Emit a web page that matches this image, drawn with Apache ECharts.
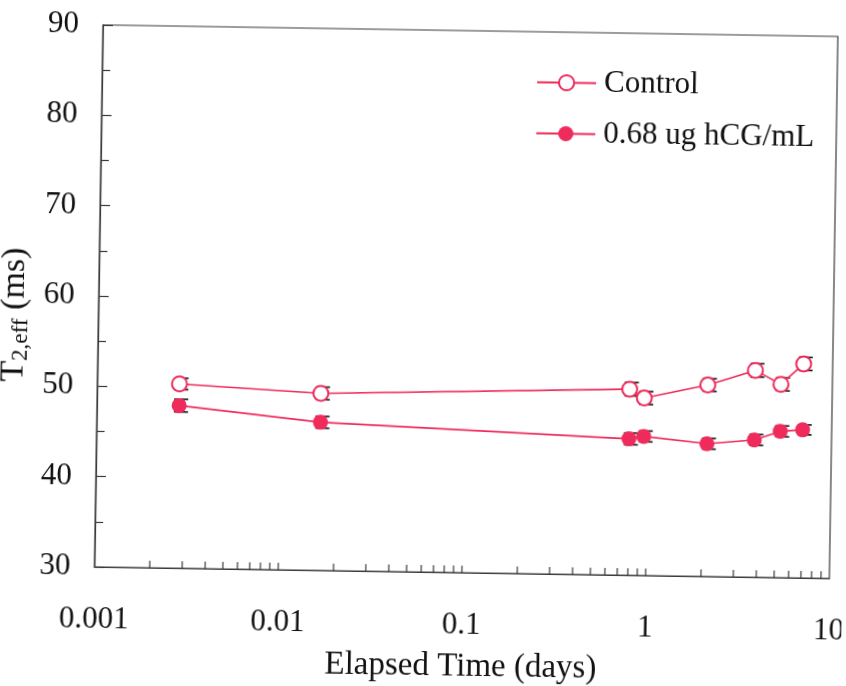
<!DOCTYPE html>
<html><head><meta charset="utf-8">
<script src="https://cdn.jsdelivr.net/npm/echarts@6/dist/echarts.min.js"></script>
<style>
html,body{margin:0;padding:0;background:#fff;overflow:hidden;width:846px;height:686px}
#c{width:846px;height:686px;transform:rotate(0.9deg);transform-origin:423px 343px;}
</style>
</head><body><div id="c"></div>
<script>
// ---- data ----
const days = [0.0028, 0.0165, 0.79, 0.95, 2.1, 3.8, 5.25, 6.95];
const control = [50.4, 49.6, 50.6, 49.65, 51.2, 52.9, 51.4, 53.7];
const controlErr = [0.63, 0.7, 0.74, 0.72, 0.7, 0.74, 0.72, 0.72];
const treated = [48.0, 46.4, 45.1, 45.4, 44.7, 45.2, 46.2, 46.4];
const treatedErr = [0.7, 0.65, 0.65, 0.6, 0.6, 0.6, 0.6, 0.55];
const seriesNames = ['Control', '0.68 ug hCG/mL'];
const xTickValues = [0.001, 0.01, 0.1, 1, 10];
const xTickLabels = ['0.001', '0.01', '0.1', '1', '10'];
const yMin = 30, yMax = 90, yStep = 10;

// ---- styles ----
const RED = '#EE2B5B';
const FONT = 'Liberation Serif';
const AXIS = '#3a3a3a';

// minor tick positions on the log x axis (2..10 within each decade)
const minorTicks = [];
for (let k = 0; k < xTickValues.length - 1; k++) {
  for (let m = 2; m <= 10; m++) {
    const v = xTickValues[k] * m;
    if (v < xTickValues[xTickValues.length - 1] * 0.999) minorTicks.push([v, yMin]);
  }
}

function errRender(params, api) {
  const x = api.value(0), y = api.value(1), e = api.value(2);
  const hi = api.coord([x, y + e]);
  const lo = api.coord([x, y - e]);
  const cx = hi[0] + 2, w = 7;
  const st = {stroke: '#111', lineWidth: 1.6};
  return {type: 'group', children: [
    {type: 'line', shape: {x1: cx, y1: hi[1], x2: cx, y2: lo[1]}, style: st},
    {type: 'line', shape: {x1: cx - w, y1: hi[1], x2: cx + w, y2: hi[1]}, style: st},
    {type: 'line', shape: {x1: cx - w, y1: lo[1], x2: cx + w, y2: lo[1]}, style: st}
  ]};
}
function tickRender(params, api) {
  const p = api.coord([api.value(0), api.value(1)]);
  return {type: 'line', shape: {x1: p[0], y1: p[1], x2: p[0], y2: p[1] - 7},
          style: {stroke: AXIS, lineWidth: 1.2}};
}

const chart = echarts.init(document.getElementById('c'), null, {renderer: 'canvas'});
chart.setOption({
  animation: false,
  backgroundColor: '#fff',
  textStyle: {fontFamily: FONT},
  grid: {left: 98, top: 30, width: 735, height: 542, show: true, containLabel: false,
         outerBoundsMode: 'none',
         borderColor: AXIS, borderWidth: 1.2, backgroundColor: 'transparent'},
  legend: {
    orient: 'vertical', left: 527, top: 60, itemWidth: 59, itemHeight: 19, itemGap: 20,
    data: seriesNames,
    textStyle: {fontFamily: FONT, fontSize: 31, color: '#111', padding: [0, 0, 0, 3]}
  },
  xAxis: {
    type: 'log', logBase: 10, min: xTickValues[0], max: xTickValues[xTickValues.length - 1],
    name: 'Elapsed Time (days)', nameLocation: 'middle', nameGap: 78,
    nameTextStyle: {fontFamily: FONT, fontSize: 33, color: '#111'},
    axisLine: {lineStyle: {color: AXIS, width: 1.2}},
    axisTick: {show: false},
    splitLine: {show: false},
    axisLabel: {fontFamily: FONT, fontSize: 31, color: '#111', margin: 37,
      formatter: v => {
        const i = xTickValues.findIndex(t => Math.abs(Math.log10(t) - Math.log10(v)) < 1e-6);
        return i >= 0 ? xTickLabels[i] : '';
      }}
  },
  yAxis: {
    type: 'value', min: yMin, max: yMax, interval: yStep,
    name: '{t|T}{s|2,eff}{t| (ms)}', nameLocation: 'middle', nameGap: 58, nameRotate: 90,
    nameTextStyle: {fontFamily: FONT, color: '#111', padding: [0, 40, 0, 0],
      rich: {
        t: {fontFamily: FONT, fontSize: 34, lineHeight: 36, color: '#111'},
        s: {fontFamily: FONT, fontSize: 23, lineHeight: 22, color: '#111', verticalAlign: 'bottom'}
      }},
    axisLine: {show: true, lineStyle: {color: AXIS, width: 1.2}},
    axisTick: {show: true, inside: true, length: 10, lineStyle: {color: AXIS, width: 1.2}},
    minorTick: {show: true, splitNumber: 2, length: 8, lineStyle: {color: AXIS, width: 1.2}},
    splitLine: {show: false},
    axisLabel: {fontFamily: FONT, fontSize: 31, color: '#111', margin: 24}
  },
  series: [
    {type: 'custom', name: 'xticks', data: minorTicks, renderItem: tickRender, silent: true, z: 1,
     encode: {x: 0, y: 1}},
    {type: 'custom', name: 'errC', data: days.map((d, i) => [d, control[i], controlErr[i]]),
     renderItem: errRender, encode: {x: 0, y: 1}, z: 2, silent: true},
    {type: 'custom', name: 'errT', data: days.map((d, i) => [d, treated[i], treatedErr[i]]),
     renderItem: errRender, encode: {x: 0, y: 1}, z: 2, silent: true},
    {type: 'line', name: seriesNames[0], data: days.map((d, i) => [d, control[i]]),
     symbol: 'emptyCircle', symbolSize: 15, z: 3,
     lineStyle: {color: RED, width: 1.6},
     itemStyle: {color: RED, borderColor: RED, borderWidth: 1.6}},
    {type: 'line', name: seriesNames[1], data: days.map((d, i) => [d, treated[i]]),
     symbol: 'circle', symbolSize: 15, z: 4,
     lineStyle: {color: RED, width: 1.6},
     itemStyle: {color: RED}}
  ]
});
</script>
</body></html>
